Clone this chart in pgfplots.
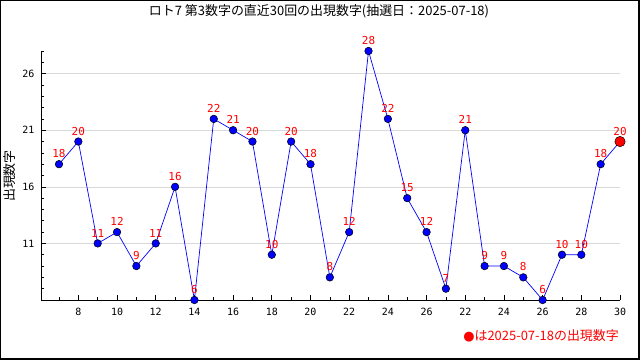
\documentclass[border=0pt]{standalone}
\usepackage{pgfplots}
\pgfplotsset{compat=1.18}
\usepackage{fontspec}
\setmainfont{Noto Sans CJK JP}
\newfontfamily\numfont{DejaVu Sans Mono}
\newfontfamily\jpfont{Noto Sans CJK JP}
\begin{document}
\begin{tikzpicture}[x=1bp,y=1bp]
\fill[white] (0,0) rectangle (640,360);
\path[use as bounding box] (0,0) rectangle (640,360);
\begin{axis}[
  at={(41bp,60bp)}, anchor=origin,
  scale only axis, width=579bp, height=249bp,
  xmin=0.07, xmax=30, ymin=6, ymax=28,
  axis x line=bottom, axis y line=left,
  axis line style={-, black, line width=0.8pt},
  tick align=inside,
  major tick length=5bp, minor tick length=3bp,
  every tick/.style={black, line width=0.6pt},
  xtick={2,4,...,30},
  xticklabels={8,10,12,14,16,18,20,22,24,26,22,24,26,28,30},
  minor xtick={1,...,30},
  ytick={11,16,21,26},
  minor ytick={6,...,28},
  ymajorgrids, grid style={gray!30, line width=0.6pt},
  /pgf/number format/assume math mode=true,
  tick label style={font=\numfont\fontsize{10}{10}\selectfont, black},
  xticklabel style={yshift=-5bp},
  yticklabel style={xshift=-3bp},
  clip=false,
]
\addplot[blue, line width=0.7pt, mark=*, mark size=3.8bp,
  mark options={fill=blue, draw=black, line width=0.5pt},
  nodes near coords,
  every node near coord/.append style={text=red, font=\numfont\fontsize{11}{11}\selectfont, anchor=south, inner sep=0pt, yshift=6bp},
] coordinates {
(1,18)(2,20)(3,11)(4,12)(5,9)(6,11)(7,16)(8,6)(9,22)(10,21)
(11,20)(12,10)(13,20)(14,18)(15,8)(16,12)(17,28)(18,22)(19,15)(20,12)
(21,7)(22,21)(23,9)(24,9)(25,8)(26,6)(27,10)(28,10)(29,18)(30,20)
};
\addplot[only marks, mark=*, mark size=5.2bp,
  mark options={fill=red, draw=black, line width=0.5pt}] coordinates {(30,20)};
\end{axis}
\node[font=\jpfont\fontsize{13}{13}\selectfont] at (319,349) {ロト7 第3数字の直近30回の出現数字(抽選日：2025-07-18)};
\node[font=\jpfont\fontsize{13}{13}\selectfont, rotate=90] at (10,184) {出現数字};
\node[font=\jpfont\fontsize{13}{13}\selectfont, text=red, anchor=east, inner sep=0pt] at (619,24) {\fontspec{DejaVu Sans}●\jpfont は2025-07-18の出現数字};
\draw[black, line width=1pt] (0.5,0.5) rectangle (639.5,359.5);
\draw[black, line width=1pt] (638.5,0) -- (638.5,360);
\draw[black, line width=1pt] (0,1.5) -- (640,1.5);
\end{tikzpicture}
\end{document}
